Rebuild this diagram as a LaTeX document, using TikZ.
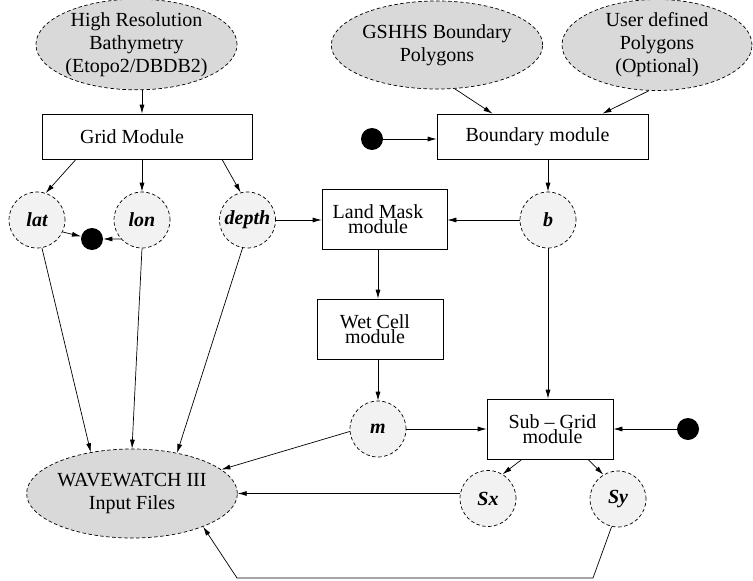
\documentclass[tikz,border=0pt]{standalone}
\usepackage{fontspec}
\setmainfont{Liberation Serif}
\usetikzlibrary{arrows.meta,shapes.geometric,calc}
\definecolor{srcfill}{gray}{0.85}
\definecolor{varfill}{gray}{0.95}
\begin{document}
\begin{tikzpicture}[x=1pt,y=-1pt,line width=0.7pt,
  txt/.style={font=\fontsize{20}{23}\selectfont},
  srcell/.style={ellipse,draw,dash pattern=on 3.5pt off 2.5pt,fill=srcfill,inner sep=0pt,align=center,txt},
  modbox/.style={rectangle,draw,fill=white,inner sep=0pt,align=center,txt},
  tight/.style={font=\fontsize{20}{14.5}\selectfont},
  varcirc/.style={circle,draw,dash pattern=on 3.5pt off 2.5pt,fill=varfill,minimum size=56pt,inner sep=0pt,font=\fontsize{20}{23}\selectfont\bfseries\itshape},
  blackdot/.style={circle,fill=black,minimum size=22pt,inner sep=0pt},
  arr/.style={-{Latex[length=9pt,width=5pt]}}]
\useasboundingbox (0,0) rectangle (753,581);
% sources
\node[srcell,minimum width=201pt,minimum height=89pt] (hr) at (136.5,44.5) {High Resolution\\Bathymetry\\(Etopo2/DBDB2)};
\node[srcell,minimum width=202pt,minimum height=88pt] (gs) at (437,45) {GSHHS Boundary\\Polygons};
\node[srcell,minimum width=190pt,minimum height=88pt] (ud) at (657,45) {User defined\\Polygons\\(Optional)};
% modules
\node[modbox,minimum width=210pt,minimum height=45pt] (grid) at (147,136.5) {Grid Module\hspace*{30pt}};
\node[modbox,minimum width=211pt,minimum height=45pt] (bnd) at (542.5,136.5) {Boundary module\hspace*{10pt}};
\node[modbox,tight,minimum width=125pt,minimum height=60pt] (land) at (384.5,219) {Land Mask\hspace*{13pt}\\module\hspace*{13pt}};
\node[modbox,tight,minimum width=126pt,minimum height=60pt] (wet) at (380,329) {Wet Cell\hspace*{10pt}\\module\hspace*{10pt}};
\node[modbox,tight,minimum width=126pt,minimum height=60pt] (sub) at (550,429) {\hspace*{5pt}Sub -- Grid\\\hspace*{5pt}module};
% variables
\node[varcirc] (lat) at (37,220) {lat};
\node[varcirc] (lon) at (142,220) {lon};
\node[varcirc] (depth) at (247.5,220) {depth};
\node[varcirc] (b) at (548,220) {b};
\node[varcirc] (m) at (378,429) {m};
\node[varcirc] (sx) at (488,498.5) {Sx};
\node[varcirc] (sy) at (618,499) {Sy};
% dots
\node[blackdot] (d1) at (92,239) {};
\node[blackdot] (d2) at (372,139) {};
\node[blackdot] (d3) at (688,429) {};
% output
\node[srcell,minimum width=200pt,minimum height=89pt] (ww) at (132,493.5) {WAVEWATCH III\\Input Files};
\coordinate (c1) at (593,578);
\coordinate (c2) at (237,578);
% connectors
\draw[arr] (hr.south -| 142,0) -- (grid.north -| 142,0);
\draw[arr] ([xshift=-71pt]grid.south) -- (lat.72);
\draw[arr] (lon |- grid.south) -- (lon.north);
\draw[arr] ([xshift=75pt]grid.south) -- (depth.104);
\draw[arr] (lat.-25) -- (d1);
\draw[arr] (lon.222) -- (d1);
\draw[arr] (depth.east) -- (land.west |- depth.east);
\draw[arr] (gs.-68) -- ([xshift=-50pt]bnd.north);
\draw[arr] (ud.-100) -- ([xshift=60pt]bnd.north);
\draw[arr] (d2) -- (bnd.west |- d2);
\draw[arr] (b |- bnd.south) -- (b.north);
\draw[arr] (b.west) -- (land.east |- b.west);
\draw[arr] (m |- land.south) -- (m |- wet.north);
\draw[arr] (m |- wet.south) -- (m.north);
\draw[arr] (b.south) -- (b |- sub.north);
\draw[arr] (m.east) -- (sub.west |- m.east);
\draw[arr] (d3) -- (sub.east |- d3);
\draw[arr] ([xshift=-28pt]sub.south) -- (sx.59);
\draw[arr] ([xshift=38pt]sub.south) -- (sy.121);
\draw[arr] (lat.280) -- (ww.135);
\draw[arr] (lon.south) -- (ww.north);
\draw[arr] (depth.260) -- (ww.42);
\draw[arr] (m.185) -- (ww.15);
\draw[arr] (ww.east -| sx.west) -- (ww.east);
\draw[arr] (sy.257) -- (c1) -- (c2) -- (ww.-25);
\end{tikzpicture}
\end{document}
